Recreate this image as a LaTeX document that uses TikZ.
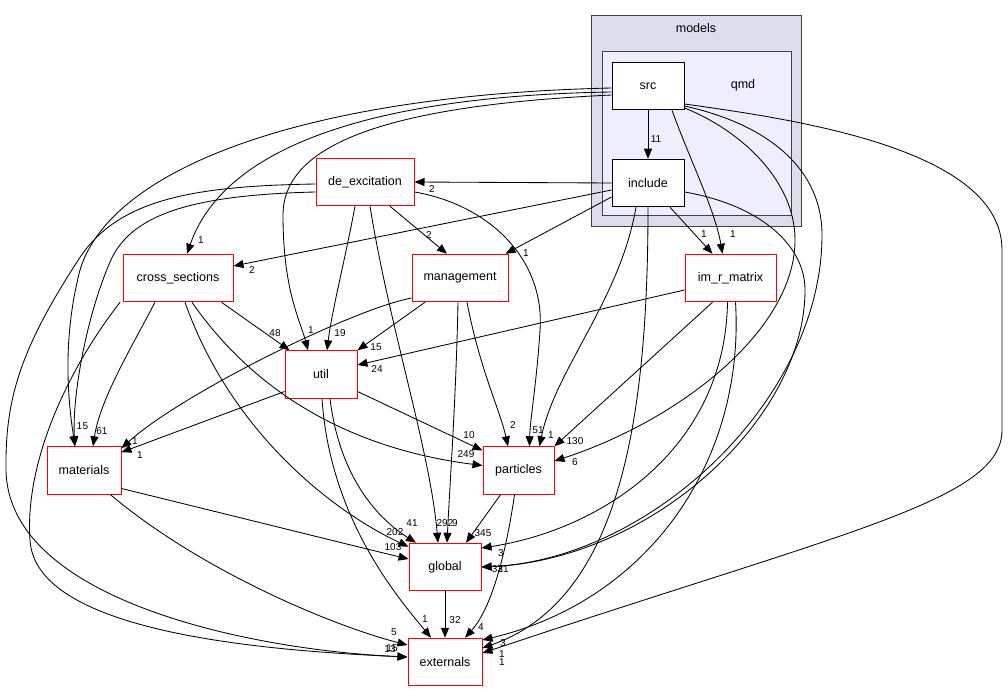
\documentclass[tikz,border=0pt]{standalone}
\usepackage{fontspec}
\setmainfont{Liberation Sans}
\usetikzlibrary{arrows.meta}
\definecolor{clouter}{HTML}{DDDDEE}
\definecolor{clinner}{HTML}{EEEEFF}
\definecolor{clborder}{HTML}{404040}
\begin{document}
\begin{tikzpicture}[x=1pt,y=-1pt,
 dirbox/.style={draw=red, line width=1pt, fill=white, minimum height=47.5pt, inner sep=0pt, font=\fontsize{12.5}{14}\selectfont},
 subbox/.style={draw=black, line width=1pt, fill=white, minimum height=47.5pt, minimum width=72pt, inner sep=0pt, font=\fontsize{12.5}{14}\selectfont},
 dep/.style={-{Triangle[length=10pt,width=8pt]}, line width=0.85pt},
 lbl/.style={inner sep=0pt, font=\fontsize{10}{12}\selectfont},
 cllabel/.style={inner sep=0pt, font=\fontsize{12.5}{14}\selectfont}]
\useasboundingbox (0,0) rectangle (1008,692);
\fill[white] (0,0) rectangle (1008,692);
% clusters
\draw[fill=clouter, draw=clborder, line width=1pt] (591,16) rectangle (801,227);
\node[cllabel] (models) at (696,28) {models};
\draw[fill=clinner, draw=clborder, line width=1pt] (602,52) rectangle (791,216);
\node[cllabel] (qmd) at (743,85) {qmd};
% nodes
\node[subbox] (src) at (648,86) {src};
\node[subbox] (include) at (648,183) {include};
\node[dirbox, minimum width=98pt] (deex) at (365,182) {de\_excitation};
\node[dirbox, minimum width=96pt] (mgmt) at (460,278) {management};
\node[dirbox, minimum width=110pt] (xs) at (178,278) {cross\_sections};
\node[dirbox, minimum width=91pt] (imr) at (730.5,278) {im\_r\_matrix};
\node[dirbox, minimum width=72pt] (util) at (321,374.5) {util};
\node[dirbox, minimum width=74pt] (mat) at (84,470.5) {materials};
\node[dirbox, minimum width=71pt] (part) at (518.5,470.5) {particles};
\node[dirbox, minimum width=72pt] (glob) at (445,567) {global};
\node[dirbox, minimum width=74pt] (ext) at (445,662) {externals};
% edges from src / include
\draw[dep] (src.south) -- (include.north);
\node[lbl] (l1) at (656,139) {11};
\draw[dep] (include.west) -- (deex.east);
\node[lbl] (l2) at (432,189) {2};
\draw[dep] ([yshift=-7pt]include.west) -- ([yshift=12pt]xs.east);
\node[lbl] (l3) at (252,270) {2};
\draw[dep] ([yshift=-14pt]include.west) -- ([xshift=-3pt]mgmt.north east);
\node[lbl] (l4) at (526,253) {1};
\draw[dep] ([xshift=22pt]include.south) -- ([xshift=-18pt]imr.north);
\node[lbl] (l5) at (704,234) {1};
\draw[dep] ([xshift=24pt]src.south) .. controls (690,160) and (715,210) .. ([xshift=-8pt]imr.north);
\node[lbl] (l6) at (733,234) {1};
\draw[dep] ([xshift=-12pt]include.south) .. controls (620,300) and (555,370) .. ([xshift=21pt]part.north);
\node[lbl] (l7) at (551,435) {1};
\draw[dep] ([yshift=-22pt]src.east) .. controls (740,130) and (795,180) .. (795,240) .. controls (795,330) and (680,420) .. ([yshift=9.5pt]part.east);
\node[lbl] (l8) at (575,462) {6};
\draw[dep] ([yshift=-18pt]src.east) .. controls (800,120) and (1002,150) .. (1002,250) -- (1002,430) .. controls (1002,500) and (850,530) .. ([yshift=9pt]ext.east);
\node[lbl] (l9) at (502,662) {1};
\draw[dep] ([yshift=-20pt]src.east) .. controls (770,125) and (822,170) .. (822,235) .. controls (822,400) and (650,560) .. (glob.east);
\draw[dep] ([yshift=-9pt]include.east) .. controls (760,205) and (805,245) .. (805,290) .. controls (805,420) and (650,560) .. (glob.east);
\node[lbl] (l10) at (497.5,569) {32};
\node[lbl] (l11) at (503,569) {31};
\draw[dep] (include.south) .. controls (648,420) and (620,600) .. ([yshift=14pt]ext.east);
\node[lbl] (l12) at (502,654) {1};
% src to the left
\draw[dep] ([yshift=-2pt]src.west) .. controls (300,95) and (110,170) .. (80,270) .. controls (62,340) and (68,400) .. ([xshift=-9pt]mat.north);
\node[lbl] (l13) at (79.5,426) {1};
\draw[dep] ([yshift=-6pt]src.west) .. controls (420,95) and (230,130) .. ([xshift=9pt]xs.north);
\node[lbl] (l14) at (201,240) {1};
\draw[dep] ([yshift=-9pt]src.west) .. controls (400,105) and (283,140) .. (283,215) .. controls (283,290) and (300,320) .. ([xshift=-13pt]util.north);
\node[lbl] (l15) at (311,330) {1};
% de_excitation
\draw[dep] ([yshift=-10pt]deex.east) .. controls (490,205) and (545,260) .. (540,330) .. controls (537,380) and (530,420) .. ([xshift=11pt]part.north);
\node[lbl] (l16) at (538,430) {51};
\draw[dep] ([xshift=-10pt]deex.south) .. controls (345,260) and (332,310) .. ([xshift=6pt]util.north);
\node[lbl] (l17) at (340,333) {19};
\draw[dep] ([xshift=25pt]deex.south) -- ([xshift=-13pt]mgmt.north);
\node[lbl] (l18) at (429,235) {2};
\draw[dep] ([xshift=5pt]deex.south) .. controls (390,330) and (430,450) .. ([xshift=-7pt]glob.north);
\node[lbl] (l19) at (445,523) {292};
\draw[dep] ([yshift=-2pt]deex.west) .. controls (190,186) and (115,200) .. (77,262) .. controls (20,350) and (5,400) .. (6,470) .. controls (8,600) and (250,650) .. ([yshift=5pt]ext.west);
\draw[dep] ([yshift=-10pt]deex.west) .. controls (190,195) and (130,215) .. (110,262) .. controls (85,320) and (72,400) .. ([xshift=-9pt]mat.north);
\node[lbl] (l20) at (85.5,426) {5};
% management
\draw[dep] ([xshift=-2pt]mgmt.south) .. controls (456,400) and (450,480) .. ([xshift=2pt]glob.north);
\node[lbl] (l21) at (455,523) {9};
\draw[dep] ([xshift=7pt]mgmt.south) .. controls (480,370) and (500,410) .. ([xshift=-10.5pt]part.north);
\node[lbl] (l22) at (513,425) {2};
\draw[dep] ([xshift=-35pt]mgmt.south) -- (util.north east);
\node[lbl] (l23) at (376,347) {15};
\draw[dep] ([yshift=-20pt]mgmt.west) .. controls (350,310) and (180,395) .. ([yshift=-2pt]mat.north east);
\node[lbl] (l24) at (135,441) {1};
% im_r_matrix
\draw[dep] ([xshift=-18pt]imr.south) -- (part.north east);
\node[lbl] (l25) at (575,441) {130};
\draw[dep] ([yshift=-12pt]imr.west) -- ([yshift=9.5pt]util.east);
\node[lbl] (l26) at (377,369) {24};
\draw[dep] ([xshift=-3pt]imr.south) .. controls (725,450) and (600,530) .. ([yshift=19pt]glob.east);
\node[lbl] (l27) at (501,553) {3};
\draw[dep] ([xshift=5pt]imr.south) .. controls (745,460) and (650,600) .. ([yshift=22pt]ext.east);
\node[lbl] (l28) at (503,643) {3};
% cross_sections
\draw[dep] ([xshift=-23pt]xs.south) .. controls (130,350) and (100,400) .. ([xshift=9pt]mat.north);
\node[lbl] (l29) at (102,431) {61};
\draw[dep] ([xshift=-12pt]xs.south east) -- ([xshift=5pt]util.north west);
\node[lbl] (l30) at (275,333) {48};
\draw[dep] ([xshift=7pt]xs.south) .. controls (230,430) and (330,510) .. ([yshift=-4pt]glob.north west);
\node[lbl] (l31) at (395,532) {202};
\draw[dep] ([xshift=14pt]xs.south) .. controls (260,400) and (360,450) .. ([yshift=5pt]part.west);
\node[lbl] (l32) at (466,454) {249};
\draw[dep] ([xshift=-58pt]xs.south) .. controls (60,380) and (25,470) .. (30,540) .. controls (35,630) and (250,650) .. ([yshift=5pt]ext.west);
\node[lbl] (l33) at (392,648) {15};
\node[lbl] (l34) at (390,649) {13};
% util
\draw[dep] ([yshift=-17pt]util.east) -- ([yshift=20pt]part.west);
\node[lbl] (l35) at (469,435) {10};
\draw[dep] ([xshift=9pt]util.south) .. controls (340,480) and (380,520) .. ([xshift=-29pt]glob.north);
\node[lbl] (l36) at (412,523) {41};
\draw[dep] ([xshift=1pt]util.south) .. controls (330,520) and (400,600) .. ([xshift=-14pt]ext.north);
\node[lbl] (l37) at (425,619) {1};
\draw[dep] ([yshift=-17pt]util.west) -- ([yshift=-6pt]mat.north east);
\node[lbl] (l38) at (140,455) {1};
% materials, particles, global
\draw[dep] ([yshift=-18pt]mat.east) .. controls (250,520) and (350,545) .. ([yshift=8pt]glob.west);
\node[lbl] (l39) at (393,547) {103};
\draw[dep] ([xshift=-11pt]mat.south east) .. controls (200,570) and (330,625) .. ([yshift=17pt]ext.west);
\node[lbl] (l40) at (394,632) {5};
\draw[dep] (glob.south) -- (ext.north);
\node[lbl] (l41) at (455,620) {32};
\draw[dep] ([xshift=-18pt]part.south) -- ([xshift=21pt]glob.north);
\node[lbl] (l42) at (483,533) {345};
\draw[dep] ([xshift=-4pt]part.south) .. controls (505,560) and (490,610) .. ([xshift=20pt]ext.north);
\node[lbl] (l43) at (481,627) {4};
\end{tikzpicture}
\end{document}
